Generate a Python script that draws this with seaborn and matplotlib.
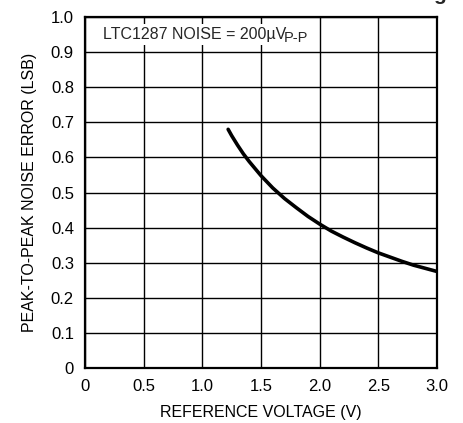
import seaborn as sns
import pandas as pd
import matplotlib.pyplot as plt

# values
ref_voltage = [1.22, 1.25, 1.3, 1.35, 1.4, 1.5, 1.6, 1.7, 1.8, 1.9, 2.0, 2.1, 2.2, 2.3, 2.4, 2.5, 2.6, 2.7, 2.8, 2.9, 3.0]
noise_lsb = [0.68, 0.662, 0.635, 0.61, 0.588, 0.548, 0.513, 0.483, 0.457, 0.432, 0.41, 0.39, 0.373, 0.357, 0.342, 0.328, 0.316, 0.304, 0.293, 0.284, 0.275]

x_ticks = [0, 0.5, 1.0, 1.5, 2.0, 2.5, 3.0]
x_labels = ["0", "0.5", "1.0", "1.5", "2.0", "2.5", "3.0"]
y_ticks = [0, 0.1, 0.2, 0.3, 0.4, 0.5, 0.6, 0.7, 0.8, 0.9, 1.0]
y_labels = ["0", "0.1", "0.2", "0.3", "0.4", "0.5", "0.6", "0.7", "0.8", "0.9", "1.0"]

df = pd.DataFrame({"Vref": ref_voltage, "Noise": noise_lsb})

sns.set_style("white")
plt.rcParams['font.family'] = ['Liberation Sans Narrow', 'Liberation Sans', 'DejaVu Sans']

fig = plt.figure(figsize=(4.64, 4.23), dpi=100)
ax = fig.add_axes([0.1832, 0.130, 0.7586, 0.8298])

sns.lineplot(data=df, x="Vref", y="Noise", color="black", linewidth=2.6, ax=ax)

ax.set_xlim(0, 3.0)
ax.set_ylim(0, 1.0)
ax.set_xticks(x_ticks)
ax.set_xticklabels(x_labels)
ax.set_yticks(y_ticks)
ax.set_yticklabels(y_labels)
ax.tick_params(length=0, labelsize=12, colors="black", pad=8)
ax.grid(True, color="black", linewidth=1.0)
ax.set_axisbelow(True)
for s in ax.spines.values():
    s.set_color("black")
    s.set_linewidth(1.6)

ax.set_xlabel("REFERENCE VOLTAGE (V)", fontsize=11.5, color="black", labelpad=8)
ax.set_ylabel("PEAK-TO-PEAK NOISE ERROR (LSB)", fontsize=11.5, color="black", labelpad=10)

# note with the P-P subscript
note = ax.text(0.051, 0.95, "LTC1287 NOISE = 200µV", fontsize=11.5,
               ha="left", va="center", transform=ax.transAxes, zorder=3,
               bbox=dict(facecolor="white", edgecolor="none", pad=2))
ax.annotate("P-P", xy=(1, 0), xycoords=note, xytext=(-1.5, -2), textcoords="offset points",
            fontsize=10.5, ha="left", va="bottom", zorder=4,
            bbox=dict(facecolor="none", edgecolor="none", pad=0.5))

# descender of the cropped title above the chart
fig.text(0.948, 1.0, "g", fontsize=15, fontweight="bold", ha="center", va="baseline")

plt.savefig("out.png", dpi=100)
